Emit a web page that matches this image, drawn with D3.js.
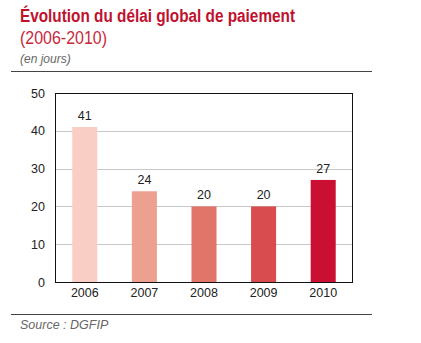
<!DOCTYPE html>
<html>
<head>
<meta charset="utf-8">
<script src="https://cdn.jsdelivr.net/npm/d3@7"></script>
<style>
  html, body { margin: 0; padding: 0; background: #fff; }
  svg { display: block; }
</style>
</head>
<body>
<svg id="chart" width="421" height="343"></svg>
<script>
// Délai global de paiement, en jours
const years = ["2006", "2007", "2008", "2009", "2010"];
const delays = [41, 24, 20, 20, 27];
const barColors = ["#f9cfc5", "#eda090", "#e2756a", "#d84b4f", "#cb0f33"];
const yTicks = [0, 10, 20, 30, 40, 50];

const svg = d3.select("#chart");
const font = "'Liberation Sans', Arial, sans-serif";

const plot = { left: 55, right: 353, top: 93, bottom: 282 };

const x = d3.scaleBand()
  .domain(years)
  .range([plot.left, plot.right])
  .paddingInner(0.58)
  .paddingOuter(0.29);

const y = d3.scaleLinear()
  .domain([0, 50])
  .range([plot.bottom, plot.top]);

// Titles (condensed heading set by fitting the line width)
svg.append("text")
  .attr("x", 20).attr("y", 22)
  .attr("font-family", font).attr("font-weight", "bold")
  .attr("font-size", 17.5).attr("fill", "#c0122f")
  .attr("textLength", 275).attr("lengthAdjust", "spacingAndGlyphs")
  .text("Évolution du délai global de paiement");

svg.append("text")
  .attr("x", 20).attr("y", 44)
  .attr("font-family", font)
  .attr("font-size", 18).attr("fill", "#c7293b")
  .attr("textLength", 87).attr("lengthAdjust", "spacingAndGlyphs")
  .text("(2006-2010)");

svg.append("text")
  .attr("x", 20).attr("y", 63)
  .attr("font-family", font).attr("font-style", "italic")
  .attr("font-size", 12).attr("fill", "#666")
  .text("(en jours)");

// Separator rules
svg.append("line")
  .attr("x1", 11).attr("x2", 372).attr("y1", 71.5).attr("y2", 71.5)
  .attr("stroke", "#444").attr("stroke-width", 1);
svg.append("line")
  .attr("x1", 11).attr("x2", 372).attr("y1", 314.5).attr("y2", 314.5)
  .attr("stroke", "#444").attr("stroke-width", 1);

// Gridlines
svg.append("g")
  .selectAll("line")
  .data(yTicks.filter(d => d > 0 && d < 50))
  .join("line")
  .attr("x1", plot.left).attr("x2", plot.right)
  .attr("y1", d => Math.round(y(d)) + 0.5).attr("y2", d => Math.round(y(d)) + 0.5)
  .attr("stroke", "#c8c8c8").attr("stroke-width", 1);

// Bars
svg.append("g")
  .selectAll("rect")
  .data(years)
  .join("rect")
  .attr("x", d => x(d))
  .attr("width", x.bandwidth())
  .attr("y", (d, i) => y(delays[i]))
  .attr("height", (d, i) => y(0) - y(delays[i]))
  .attr("fill", (d, i) => barColors[i]);

// Value labels
svg.append("g")
  .selectAll("text")
  .data(years)
  .join("text")
  .attr("x", d => x(d) + x.bandwidth() / 2)
  .attr("y", (d, i) => y(delays[i]) - 7)
  .attr("text-anchor", "middle")
  .attr("font-family", font).attr("font-size", 12.5).attr("fill", "#222")
  .text((d, i) => delays[i]);

// Plot frame
svg.append("rect")
  .attr("x", plot.left + 0.5).attr("y", plot.top + 0.5)
  .attr("width", plot.right - plot.left - 1).attr("height", plot.bottom - plot.top)
  .attr("fill", "none").attr("stroke", "#111").attr("stroke-width", 1);

// Axes
const yAxis = svg.append("g")
  .attr("transform", `translate(${plot.left},0)`)
  .call(d3.axisLeft(y).tickValues(yTicks).tickSize(0).tickPadding(10));
yAxis.select(".domain").remove();
yAxis.selectAll("text")
  .attr("font-family", font).attr("font-size", 12.5).attr("fill", "#222");

const xAxis = svg.append("g")
  .attr("transform", `translate(0,${plot.bottom})`)
  .call(d3.axisBottom(x).tickSize(0).tickPadding(6));
xAxis.select(".domain").remove();
xAxis.selectAll("text")
  .attr("font-family", font).attr("font-size", 12.5).attr("fill", "#222");

// Source
svg.append("text")
  .attr("x", 20).attr("y", 329)
  .attr("font-family", font).attr("font-style", "italic")
  .attr("font-size", 12.5).attr("fill", "#666")
  .text("Source : DGFIP");
</script>
</body>
</html>
